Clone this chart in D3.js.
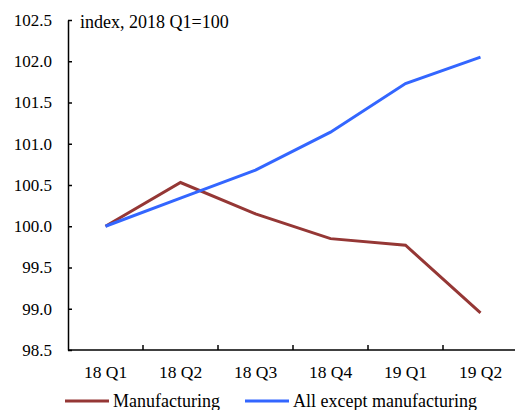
<!DOCTYPE html>
<html>
<head>
<meta charset="utf-8">
<script src="https://cdn.jsdelivr.net/npm/d3@7"></script>
<style>
  body { margin: 0; background: #fff; }
  text { font-family: "Liberation Serif", "Times New Roman", serif; fill: #000; }
</style>
</head>
<body>
<div id="chart"></div>
<script>
const quarters = ["18 Q1", "18 Q2", "18 Q3", "18 Q4", "19 Q1", "19 Q2"];
const manufacturing = [100.0, 100.53, 100.15, 99.85, 99.77, 98.95];
const allExcept = [100.0, 100.34, 100.68, 101.14, 101.73, 102.05];
const yTicks = [98.5, 99.0, 99.5, 100.0, 100.5, 101.0, 101.5, 102.0, 102.5];

const W = 515, H = 410;
const margin = { top: 20, right: 0, bottom: 60, left: 68 };

const svg = d3.select("#chart").append("svg")
  .attr("width", W).attr("height", H);

const x = d3.scaleBand().domain(quarters).range([margin.left, margin.left + 6 * 75]);
const y = d3.scaleLinear().domain([98.5, 102.5]).range([H - margin.bottom, margin.top]);

// y axis
const yAxis = svg.append("g")
  .attr("transform", `translate(${margin.left},0)`)
  .call(d3.axisRight(y).tickValues(yTicks).tickSize(4).tickSizeOuter(0).tickFormat(d3.format(".1f")));
yAxis.select(".domain").attr("stroke", "#000").attr("stroke-width", 1.5);
yAxis.selectAll(".tick line").attr("stroke", "#000").attr("stroke-width", 1.5);
yAxis.selectAll(".tick text")
  .attr("x", -16).attr("text-anchor", "end")
  .style("font-size", "17px").style("font-family", "Liberation Serif");

// x axis
const xAxis = svg.append("g")
  .attr("transform", `translate(0,${y(98.5)})`)
  .call(d3.axisBottom(x).tickSize(0).tickSizeOuter(0));
xAxis.select(".domain").attr("stroke", "#000").attr("stroke-width", 1.5)
  .attr("d", `M${margin.left},0H${W}`);
xAxis.selectAll(".tick text").attr("y", 16)
  .style("font-size", "17.5px").style("font-family", "Liberation Serif");

// x separators (ticks between bands)
svg.append("g").selectAll("line")
  .data(quarters.slice(1))
  .join("line")
  .attr("x1", d => x(d)).attr("x2", d => x(d))
  .attr("y1", y(98.5)).attr("y2", y(98.5) - 5)
  .attr("stroke", "#000").attr("stroke-width", 1.5);

svg.append("text")
  .attr("x", 80).attr("y", 28)
  .style("font-size", "18px")
  .text("index, 2018 Q1=100");

const line = d3.line()
  .x((d, i) => x(quarters[i]) + x.bandwidth() / 2)
  .y(d => y(d));

svg.append("path").datum(manufacturing)
  .attr("d", line).attr("fill", "none")
  .attr("stroke", "#953735").attr("stroke-width", 3);

svg.append("path").datum(allExcept)
  .attr("d", line).attr("fill", "none")
  .attr("stroke", "#3366ff").attr("stroke-width", 3);

// legend
const legend = [
  { name: "Manufacturing", color: "#953735", x: 65 },
  { name: "All except manufacturing", color: "#3366ff", x: 245 }
];
const lg = svg.append("g").selectAll("g").data(legend).join("g")
  .attr("transform", d => `translate(${d.x},401)`);
lg.append("line").attr("x1", 0).attr("x2", 44).attr("y1", 0).attr("y2", 0)
  .attr("stroke", d => d.color).attr("stroke-width", 3);
lg.append("text").attr("x", 48).attr("y", 6)
  .style("font-size", "18px").text(d => d.name);
</script>
</body>
</html>
